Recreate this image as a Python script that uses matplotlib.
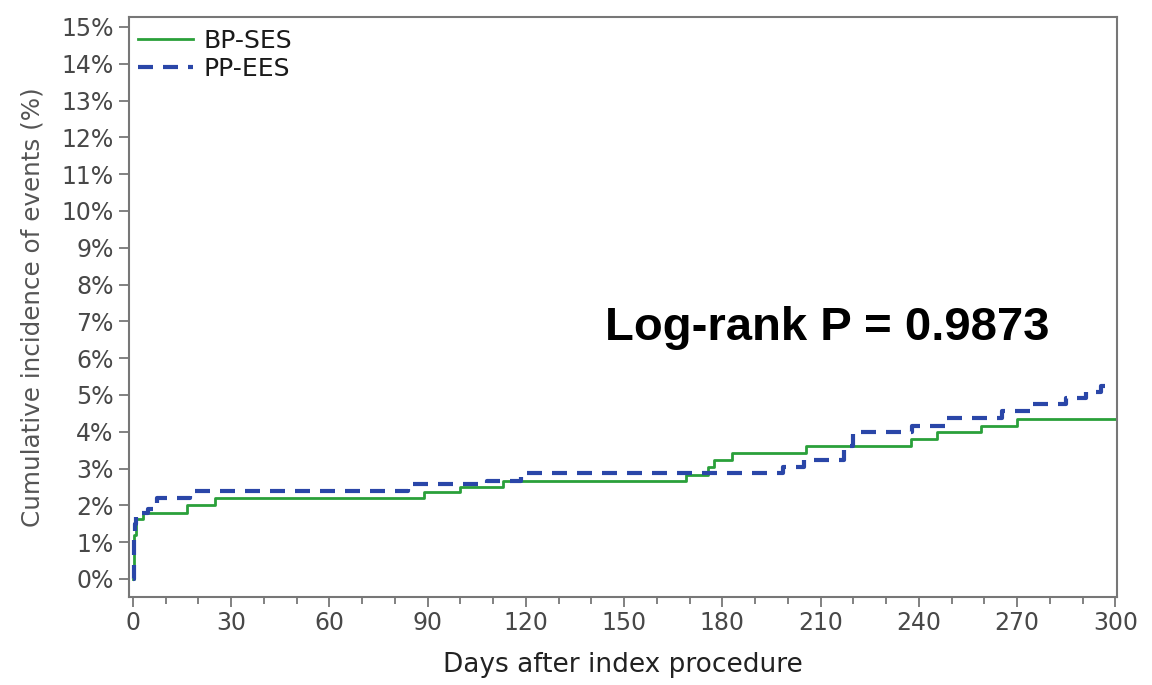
import matplotlib.pyplot as plt
from matplotlib.ticker import MultipleLocator, FuncFormatter

# cumulative incidence, step times (days) and levels (%)
ses_days = [0, 0.3, 1, 3, 16.5, 25, 89, 100, 113, 169, 175.5, 177.5, 183,
            205.5, 237.5, 245.5, 259, 270, 300]
ses_pct = [0, 1.2, 1.63, 1.8, 2.0, 2.2, 2.35, 2.5, 2.67, 2.83, 3.03, 3.24,
           3.42, 3.61, 3.8, 3.98, 4.17, 4.34, 4.34]

ees_days = [0, 0.2, 0.4, 0.7, 1, 4.5, 7.5, 17.5, 84, 108, 118.5, 198.5, 205,
            217, 220, 238, 248, 265.5, 274.5, 285, 291, 295.5, 300]
ees_pct = [0, 0.9, 1.2, 1.5, 1.8, 1.9, 2.2, 2.4, 2.57, 2.67, 2.89, 3.05,
           3.23, 3.6, 3.98, 4.17, 4.38, 4.57, 4.75, 4.91, 5.09, 5.24, 5.24]

x_ticks = list(range(0, 301, 30))
y_ticks = list(range(0, 16))

gray = '#484848'
W, H = 1152, 685
fig = plt.figure(figsize=(W / 100, H / 100), dpi=100)
ax = fig.add_axes([129 / W, 1 - 597 / H, (1117 - 129) / W, (597 - 17) / H])

ax.step(ses_days, ses_pct, where='post', color='#2aa03a', lw=2, label='BP-SES')
ax.step(ees_days, ees_pct, where='post', color='#2a46a8', lw=3,
        dashes=(3.6, 2.4), label='PP-EES')

ax.set_xlim(-1.2, 300.5)
ax.set_ylim(-0.49, 15.27)
ax.set_xticks(x_ticks)
ax.xaxis.set_minor_locator(MultipleLocator(10))
ax.set_yticks(y_ticks)
ax.yaxis.set_major_formatter(FuncFormatter(lambda v, p: '%d%%' % v))

for s in ax.spines.values():
    s.set_color('#777777')
    s.set_linewidth(1.5)
ax.tick_params(axis='both', which='major', direction='out', length=7,
               width=1.3, color='#777777', labelcolor=gray, labelsize=17)
ax.tick_params(axis='x', which='minor', direction='out', length=5,
               width=1.3, color='#777777')
ax.tick_params(axis='x', pad=3)
ax.tick_params(axis='y', pad=4)

ax.set_xlabel('Days after index procedure', fontsize=19, color='#222222', labelpad=12)
ax.set_ylabel('Cumulative incidence of events (%)', fontsize=17.7, color='#555555',
              labelpad=12)

ax.legend(loc='upper left', frameon=False, fontsize=18, handlelength=2.2,
          borderpad=0, borderaxespad=0, labelspacing=0.15, handletextpad=0.4,
          bbox_to_anchor=(138 / W, 1 - 29 / H), bbox_transform=fig.transFigure,
          labelcolor='#1a1a1a')

ax.text(211.9, 6.49, 'Log-rank P = 0.9873', ha='center', va='baseline',
        fontsize=34, fontweight='bold', family='Liberation Sans', color='black')

fig.savefig('out.png', dpi=100)
